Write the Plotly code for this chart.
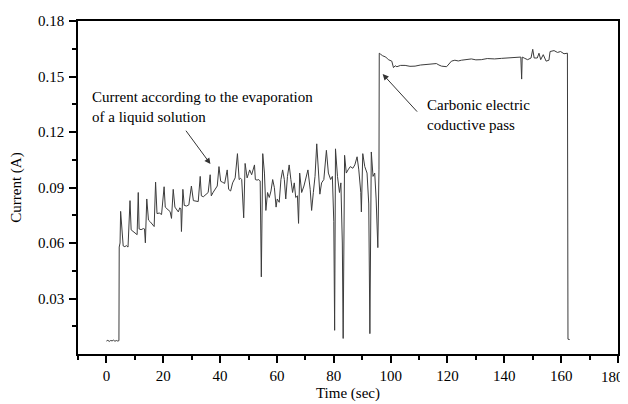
import plotly.graph_objects as go

time_s = [0, 0.5, 1.0, 1.5, 2.0, 2.5, 3.0, 3.5, 4.0, 4.4, 4.5, 4.8, 5.0, 5.5, 5.9, 6.5, 7.0, 7.6,
          8.3, 8.7, 9.3, 10.1, 10.8, 11.2, 11.5, 12.2, 13.0, 13.4, 13.7, 14.2, 14.8, 15.4, 16.0, 16.8,
          17.3, 17.8, 18.6, 19.4, 20.3, 20.7, 21.3, 21.8, 22.4, 22.9, 23.5, 24.1, 24.7, 25.3, 25.8,
          26.2, 26.4, 26.9, 27.4, 28.2, 29.0, 29.9, 30.6, 31.4, 32.3, 33.0, 33.4, 34.1, 34.8, 35.3,
          35.8, 36.5, 36.9, 37.6, 38.3, 39.0, 39.6, 40.2, 40.9, 41.6, 42.5, 43.0, 43.7, 44.4, 45.3,
          46.1, 46.7, 47.2, 47.6, 48.3, 48.8, 49.5, 50.0, 50.4, 51.1, 52.1, 52.4, 53.0, 53.6, 54.1,
          54.5, 55.0, 55.6, 56.1, 56.7, 57.3, 57.9, 58.5, 59.1, 59.7, 60.1, 60.8, 61.4, 62.0, 62.6,
          63.1, 63.7, 64.3, 64.9, 65.5, 66.1, 66.6, 67.2, 67.6, 68.0, 68.7, 69.5, 70.1, 70.9, 71.7,
          72.2, 72.8, 73.4, 74.0, 74.6, 75.1, 75.7, 76.5, 77.4, 78.1, 78.9, 79.5, 80.0, 80.3, 80.6,
          81.3, 82.0, 82.5, 83.0, 83.3, 83.8, 84.4, 85.0, 85.8, 86.7, 87.4, 88.2, 88.8, 89.5, 89.7,
          90.2, 90.9, 91.7, 92.3, 92.7, 93.2, 93.8, 94.4, 94.9, 95.5, 95.9, 96.0, 96.5, 97.2, 98.3,
          99.2, 100.4, 101.0, 101.6, 102.2, 103.5, 105.1, 106.8, 108.6, 110.5, 113.2, 115.0, 116.1,
          117.0, 117.9, 119.7, 120.5, 121.4, 122.6, 123.8, 124.9, 126.5, 128.4, 130.0, 131.9, 134.0,
          136.6, 139.0, 141.2, 143.0, 144.7, 145.8, 146.1, 146.3, 147.2, 148.2, 149.4, 150.0, 150.5,
          151.6, 152.2, 152.8, 153.7, 154.7, 155.7, 156.1, 157.5, 158.7, 159.8, 161.0, 162.2, 162.4,
          163.0]

current_a = [0.0070, 0.0074, 0.0068, 0.0073, 0.0071, 0.0075, 0.0069, 0.0073, 0.0070, 0.0072,
             0.0578, 0.0600, 0.0771, 0.0680, 0.0584, 0.0580, 0.0586, 0.0578,
             0.0829, 0.0671, 0.0662, 0.0654, 0.0645, 0.0873, 0.0676, 0.0672, 0.0678, 0.0676, 0.0601,
             0.0838, 0.0724, 0.0715, 0.0706, 0.0689,
             0.0929, 0.0759, 0.0762, 0.0754, 0.0904, 0.0794, 0.0785, 0.0776, 0.0770, 0.0733, 0.0890,
             0.0794, 0.0780, 0.0768, 0.0790,
             0.0785, 0.0662, 0.0890, 0.0803, 0.0800, 0.0806, 0.0908, 0.0829, 0.0826, 0.0824, 0.0960,
             0.0855, 0.0850, 0.0859, 0.0865,
             0.0873, 0.0969, 0.0855, 0.0875, 0.0890, 0.0908, 0.1013, 0.0934, 0.0928, 0.0922, 0.0995,
             0.0890, 0.0881, 0.0925, 0.0952,
             0.1083, 0.0943, 0.0950, 0.0943, 0.0736, 0.1030, 0.0952, 0.0975, 0.0995, 0.0969, 0.1022,
             0.0943, 0.0940, 0.0943, 0.0935,
             0.0417, 0.1083, 0.0978, 0.0776, 0.0873, 0.0846, 0.0881, 0.0943, 0.0899, 0.0794, 0.0838,
             0.0820, 0.0943, 0.0995, 0.0943,
             0.0838, 0.0960, 0.1022, 0.0943, 0.0873, 0.0925, 0.0846, 0.0855, 0.0706, 0.0978, 0.0873,
             0.0908, 0.0943, 0.0995, 0.0890,
             0.0776, 0.0873, 0.0960, 0.1136, 0.0978, 0.0864, 0.0925, 0.0943, 0.1101, 0.0978, 0.0943,
             0.0960, 0.0715, 0.0128, 0.1109,
             0.0960, 0.0873, 0.0925, 0.0600, 0.0084, 0.1074, 0.0978, 0.0995, 0.1013, 0.1004, 0.1022,
             0.1066, 0.0995, 0.0873, 0.0768,
             0.1083, 0.1013, 0.0978, 0.0811, 0.0110, 0.1092, 0.0960, 0.0978, 0.0838, 0.0575, 0.0995,
             0.1626, 0.1620, 0.1612, 0.1605,
             0.1591, 0.1583, 0.1548, 0.1558, 0.1553, 0.1560, 0.1560, 0.1555, 0.1556, 0.1562, 0.1565,
             0.1568, 0.1570,
             0.1562, 0.1556, 0.1553, 0.1568, 0.1583, 0.1588, 0.1584, 0.1588, 0.1592, 0.1595, 0.1590,
             0.1591, 0.1597,
             0.1595, 0.1598, 0.1600, 0.1602, 0.1605, 0.1605, 0.1486, 0.1605, 0.1598, 0.1591, 0.1600,
             0.1647, 0.1600,
             0.1600, 0.1626, 0.1591, 0.1618, 0.1583, 0.1588, 0.1635, 0.1640, 0.1630, 0.1635, 0.1623,
             0.1626, 0.0080,
             0.0078]

x_ticks = [0, 20, 40, 60, 80, 100, 120, 140, 160, 180]
x_tick_labels = ["0", "20", "40", "60", "80", "100", "120", "140", "160", ""]
last_x_label = "180"
y_ticks = [0.03, 0.06, 0.09, 0.12, 0.15, 0.18]
y_tick_labels = ["0.03", "0.06", "0.09", "0.12", "0.15", "0.18"]
y_minor = [0.015, 0.045, 0.075, 0.105, 0.135, 0.165]

FONT = "Liberation Serif, Times New Roman, serif"

fig = go.Figure()
fig.add_trace(go.Scatter(x=time_s, y=current_a, mode="lines",
                         line=dict(color="#3c3c3c", width=1), showlegend=False,
                         hoverinfo="skip"))

axis_common = dict(showline=True, linecolor="black", linewidth=1.5, mirror=True,
                   showgrid=False, zeroline=False, ticks="outside", ticklen=7,
                   tickwidth=1.5, tickcolor="black", ticklabeloverflow="allow",
                   tickfont=dict(family=FONT, size=15, color="black"),
                   title_font=dict(family=FONT, size=15, color="black"))

# page body has an 8px margin, so the figure is drawn 8px smaller and offset
fig.update_layout(
    width=620, height=396, autosize=False,
    margin=dict(l=66, r=10, t=5, b=48),
    paper_bgcolor="white", plot_bgcolor="white",
    xaxis=dict(range=[-10, 180], tickvals=x_ticks, ticktext=x_tick_labels,
               title=dict(text="Time (sec)", standoff=5),
               minor=dict(dtick=10, tick0=0, ticks="outside", ticklen=4, tickwidth=1.5,
                          tickcolor="black", showgrid=False),
               **axis_common),
    yaxis=dict(range=[0, 0.18], tickvals=y_ticks, ticktext=y_tick_labels,
               ticklabelstandoff=2,
               title=dict(text="Current (A)", standoff=14),
               minor=dict(tickvals=y_minor, ticks="outside", ticklen=4, tickwidth=1.5,
                          tickcolor="black", showgrid=False),
               **axis_common),
)

fig.add_annotation(x=1.0, y=0, xref="paper", yref="paper", xshift=8, yshift=-23,
                   xanchor="right", yanchor="middle", showarrow=False,
                   text=last_x_label, font=dict(family=FONT, size=15, color="black"))

fig.add_annotation(x=-5.7, y=0.1335, xref="x", yref="y", showarrow=False,
                   xanchor="left", yanchor="middle", align="left",
                   text="Current according to the evaporation<br>of a liquid solution",
                   font=dict(family=FONT, size=15, color="black"))
fig.add_annotation(x=112.0, y=0.1293, xref="x", yref="y", showarrow=False,
                   xanchor="left", yanchor="middle", align="left",
                   text="Carbonic electric<br>coductive pass",
                   font=dict(family=FONT, size=15, color="black"))

fig.add_annotation(x=36.6, y=0.1027, ax=27.6, ay=0.1215, xref="x", yref="y",
                   axref="x", ayref="y", text="", showarrow=True,
                   arrowhead=2, arrowsize=1.2, arrowwidth=1, arrowcolor="#333333")
fig.add_annotation(x=97.2, y=0.1513, ax=109.8, ay=0.1302, xref="x", yref="y",
                   axref="x", ayref="y", text="", showarrow=True,
                   arrowhead=2, arrowsize=1.2, arrowwidth=1, arrowcolor="#333333")

fig.write_html("out.html")
